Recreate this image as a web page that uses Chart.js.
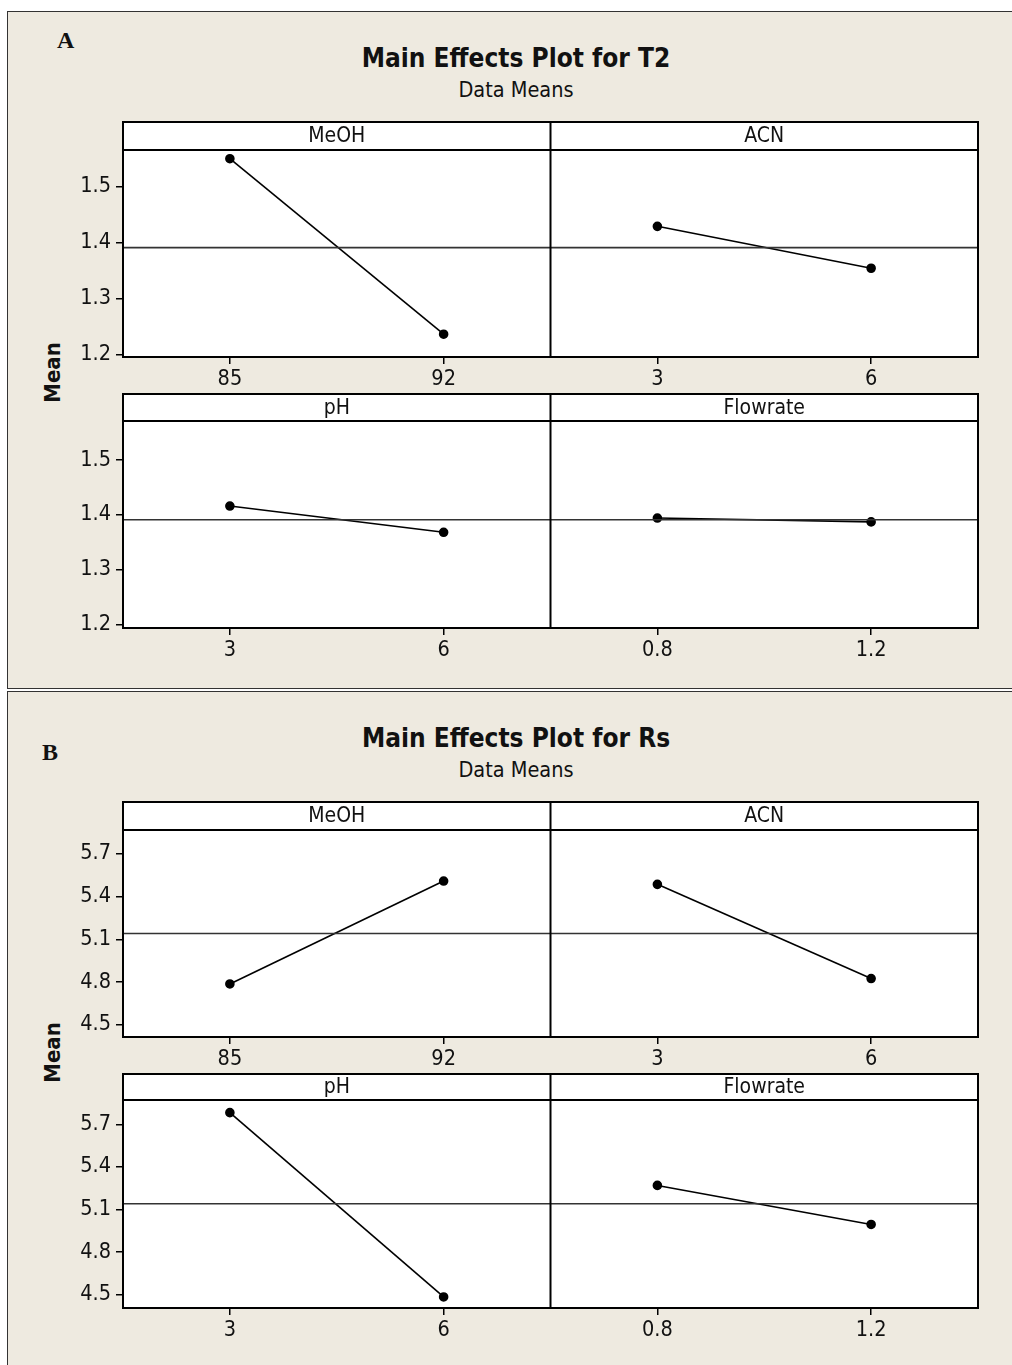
<!DOCTYPE html>
<html>
<head>
<meta charset="utf-8">
<script src="https://cdn.jsdelivr.net/npm/chart.js@4.4.1/dist/chart.umd.min.js"></script>
<style>
  html, body { margin: 0; padding: 0; background: #fff; }
  body { width: 1012px; height: 1365px; position: relative; overflow: hidden;
         font-family: 'DejaVu Sans Condensed', 'DejaVu Sans', sans-serif; color: #111; }
  .panel { position: absolute; left: 7px; width: 1020px; background: #eeeae0;
           border: 1.5px solid #333; box-sizing: border-box; }
  .tag { position: absolute; font-family: 'Liberation Serif', serif; font-weight: bold; font-size: 24px; }
  .title { position: absolute; left: 0; width: 1032px; text-align: center; font-weight: bold; font-size: 26px; }
  .sub { position: absolute; left: 0; width: 1032px; text-align: center; font-size: 21.5px; }
  .ylab { position: absolute; font-weight: bold; font-size: 22px; transform: rotate(-90deg); transform-origin: center; width: 80px; text-align: center; }
  canvas { position: absolute; }
</style>
</head>
<body>
<div class="panel" style="top:11px; height:678px;"></div>
<div class="panel" style="top:691px; height:700px;"></div>

<div class="tag" style="left:57px; top:27px;">A</div>
<div class="title" style="top:43px;">Main Effects Plot for T2</div>
<div class="sub" style="top:77px;">Data Means</div>
<div class="ylab" style="left:12px; top:360px;">Mean</div>

<div class="tag" style="left:42px; top:739px;">B</div>
<div class="title" style="top:723px;">Main Effects Plot for Rs</div>
<div class="sub" style="top:757px;">Data Means</div>
<div class="ylab" style="left:12px; top:1040px;">Mean</div>

<canvas id="t2Top"></canvas>
<canvas id="t2Bottom"></canvas>
<canvas id="rsTop"></canvas>
<canvas id="rsBottom"></canvas>

<script>
// Factors and their two levels
const factorNames = ['MeOH', 'ACN', 'pH', 'Flowrate'];
const factorLevels = [['85', '92'], ['3', '6'], ['3', '6'], ['0.8', '1.2']];

// Level means for the T2 response, one pair per factor
const t2Means = [[1.550, 1.236], [1.429, 1.354], [1.416, 1.368], [1.394, 1.387]];
const t2Grand = 1.391;
const t2Ticks = [1.2, 1.3, 1.4, 1.5];

// Level means for the Rs response
const rsMeans = [[4.786, 5.509], [5.486, 4.824], [5.782, 4.483], [5.269, 4.994]];
const rsGrand = 5.14;
const rsTicks = [4.5, 4.8, 5.1, 5.4, 5.7];

const FONT = "'DejaVu Sans Condensed', 'DejaVu Sans', sans-serif";
Chart.defaults.font.family = FONT;
Chart.defaults.color = '#111';

// white plot area, black box, divider and the header strip with factor names
const panelFrame = {
  id: 'panelFrame',
  beforeDraw(chart, args, opts) {
    const { ctx, chartArea: a } = chart;
    ctx.save();
    ctx.fillStyle = '#fff';
    ctx.fillRect(a.left, a.top - opts.headerHeight, a.right - a.left, a.bottom - a.top + opts.headerHeight);
    ctx.restore();
  },
  afterDraw(chart, args, opts) {
    const { ctx, chartArea: a, scales } = chart;
    const hTop = a.top - opts.headerHeight;
    const mid = scales.x.getPixelForValue(1.5);
    ctx.save();
    ctx.strokeStyle = '#000';
    ctx.lineWidth = 2;
    ctx.strokeRect(a.left, hTop, a.right - a.left, a.bottom - hTop);
    ctx.beginPath();
    ctx.moveTo(a.left, a.top); ctx.lineTo(a.right, a.top);
    ctx.moveTo(mid, hTop); ctx.lineTo(mid, a.bottom);
    ctx.stroke();
    ctx.fillStyle = '#111';
    ctx.font = '21px ' + FONT;
    ctx.textAlign = 'center';
    ctx.textBaseline = 'middle';
    opts.names.forEach((name, i) => {
      ctx.fillText(name, scales.x.getPixelForValue(2 * i + 0.5), hTop + opts.headerHeight / 2 + 1);
    });
    ctx.restore();
  }
};

function buildRow(id, box, pair, means, grand, yTicks, yMin, yMax) {
  const canvas = document.getElementById(id);
  const leftPx = 40, widthPx = 960;
  const axisW = box.plotLeft - leftPx;
  const padRight = leftPx + widthPx - box.plotRight;
  const top = box.headerTop - 3;
  const plotH = box.plotBottom - box.plotTop;
  const heightPx = 3 + (box.plotTop - box.headerTop) + plotH + 46;
  canvas.width = widthPx; canvas.height = heightPx;
  canvas.style.left = leftPx + 'px'; canvas.style.top = top + 'px';
  canvas.style.width = widthPx + 'px'; canvas.style.height = heightPx + 'px';

  const names = pair.map(i => factorNames[i]);
  const labels = [];
  pair.forEach(i => labels.push(...factorLevels[i]));

  const datasets = [{
    data: [{ x: -0.5, y: grand }, { x: 3.5, y: grand }],
    borderColor: '#333', borderWidth: 1.6, pointRadius: 0
  }];
  pair.forEach((f, k) => {
    datasets.push({
      data: means[f].map((v, j) => ({ x: 2 * k + j, y: v })),
      borderColor: '#000', borderWidth: 1.6,
      pointRadius: 4, pointBackgroundColor: '#000', pointBorderColor: '#000'
    });
  });

  new Chart(canvas, {
    type: 'line',
    data: { datasets },
    plugins: [panelFrame],
    options: {
      responsive: false,
      animation: false,
      layout: { padding: { left: 0, right: padRight, top: 3 + (box.plotTop - box.headerTop), bottom: 0 } },
      plugins: {
        legend: { display: false },
        tooltip: { enabled: false },
        panelFrame: { headerHeight: box.plotTop - box.headerTop, names }
      },
      scales: {
        x: {
          type: 'linear', min: -0.5, max: 3.5,
          afterBuildTicks: s => { s.ticks = [0, 1, 2, 3].map(v => ({ value: v })); },
          afterFit: s => { s.height = 46; },
          ticks: { font: { size: 21.5 }, padding: 3, maxRotation: 0, callback: v => labels[v] },
          grid: { drawOnChartArea: false, tickLength: 7, color: '#000', lineWidth: 1.5 },
          border: { display: false }
        },
        y: {
          min: yMin, max: yMax,
          afterBuildTicks: s => { s.ticks = yTicks.map(v => ({ value: v })); },
          afterFit: s => { s.width = axisW; },
          ticks: { font: { size: 21.5 }, padding: 5, callback: v => v.toFixed(1) },
          grid: { drawOnChartArea: false, tickLength: 7, color: '#000', lineWidth: 1.5 },
          border: { display: false }
        }
      }
    }
  });
}

buildRow('t2Top', { headerTop: 122, plotTop: 150, plotBottom: 357, plotLeft: 123, plotRight: 978 },
  [0, 1], t2Means, t2Grand, t2Ticks, 1.1952, 1.5656);
buildRow('t2Bottom', { headerTop: 394, plotTop: 421, plotBottom: 628, plotLeft: 123, plotRight: 978 },
  [2, 3], t2Means, t2Grand, t2Ticks, 1.1932, 1.5713);
buildRow('rsTop', { headerTop: 802, plotTop: 830, plotBottom: 1037, plotLeft: 123, plotRight: 978 },
  [0, 1], rsMeans, rsGrand, rsTicks, 4.413, 5.868);
buildRow('rsBottom', { headerTop: 1074, plotTop: 1100, plotBottom: 1308, plotLeft: 123, plotRight: 978 },
  [2, 3], rsMeans, rsGrand, rsTicks, 4.405, 5.871);
</script>
</body>
</html>
